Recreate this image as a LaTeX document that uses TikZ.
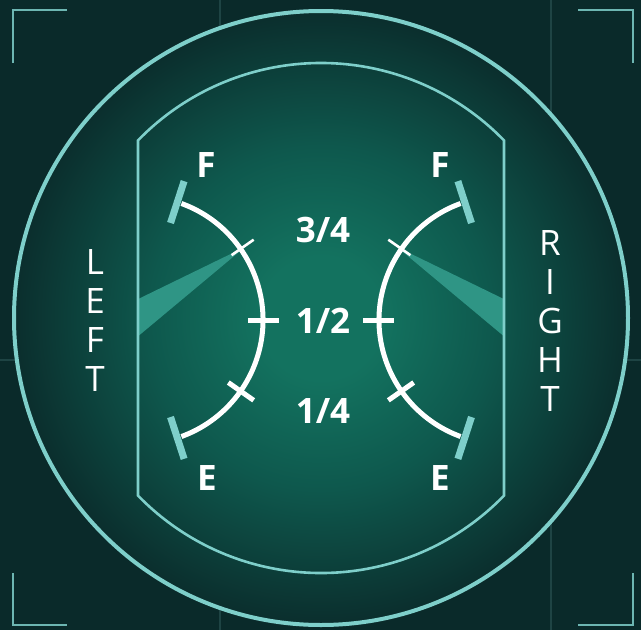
\documentclass[tikz,border=0pt]{standalone}
\usepackage{fontspec}
\setmainfont{Open Sans}
\usetikzlibrary{calc}
\definecolor{bgdark}{HTML}{0A2A2A}
\definecolor{gridc}{HTML}{1E4444}
\definecolor{teal1}{HTML}{7ECFCA}
\definecolor{wedgec}{HTML}{2F9585}
\definecolor{glowc}{HTML}{13725F}
\definecolor{glowm}{HTML}{0E584D}
\definecolor{glowo}{HTML}{0B2E2D}
\pgfdeclareradialshading{glow}{\pgfpoint{0bp}{0bp}}{color(0bp)=(glowc); color(5bp)=(glowc); color(14bp)=(glowm); color(25bp)=(glowo); color(50bp)=(glowo)}
\begin{document}
\begin{tikzpicture}[x=1pt,y=-1pt,
  rim/.style={draw=teal1, line width=4},
  border/.style={draw=teal1, line width=2.6},
  bracket/.style={draw=teal1!85!bgdark, line width=2.4},
  gridline/.style={draw=gridc, line width=2},
  gaugearc/.style={draw=white, line width=5},
  tickmark/.style={draw=white, line width=5},
  thintick/.style={draw=white, line width=2.6},
  capbar/.style={draw=teal1, line width=7},
  needle/.style={fill=wedgec},
  bigtxt/.style={text=white, anchor=base, font=\fontsize{35}{35}\selectfont\bfseries},
  sidetxt/.style={text=white, anchor=base, font=\fontsize{35}{35}\selectfont}]
\useasboundingbox (0,0) rectangle (641,630);
\fill[bgdark] (0,0) rectangle (641,630);
% grid lines
\draw[gridline] (220,0) -- (220,630);
\draw[gridline] (551,0) -- (551,630);
\draw[gridline] (0,360) -- (641,360);
% corner brackets
\draw[bracket] (13,63) -- (13,10) -- (67,10);
\draw[bracket] (578,10) -- (633,10) -- (633,63);
\draw[bracket] (13,573) -- (13,625) -- (67,625);
\draw[bracket] (578,625) -- (633,625) -- (633,573);
% outer circle
\coordinate (O) at (321,318);
\shade[shading=glow] (O) circle (307);
\draw[rim] (O) circle (307);
% inner capsule
\def\innerpath{(138,140.4) arc[start angle=224.14, end angle=315.86, radius=255] -- (504,495.6) arc[start angle=44.14, end angle=135.86, radius=255] -- cycle}
% gauge centres
\coordinate (LC) at (139,320);
\coordinate (RC) at (503,320);
% needles
\begin{scope}
\clip \innerpath;
\fill[needle] (130,303) -- (245,247) -- (130,343) -- cycle;
\fill[needle] (512,303) -- (397,247) -- (512,343) -- cycle;
\end{scope}
\draw[border] \innerpath;
% left gauge
\draw[gaugearc] ($(LC)+(-70:124)$) arc[start angle=-70, end angle=70, radius=124];
\draw[thintick] ($(LC)+(-35:113)$) -- ($(LC)+(-35:140)$);
\draw[tickmark] ($(LC)+(0:109)$) -- ($(LC)+(0:140)$);
\draw[tickmark] ($(LC)+(35:109)$) -- ($(LC)+(35:140)$);
\draw[capbar] ($(LC)+(-72:102)$) -- ($(LC)+(-72:146)$);
\draw[capbar] ($(LC)+(72:102)$) -- ($(LC)+(72:146)$);
% right gauge
\draw[gaugearc] ($(RC)+(-110:124)$) arc[start angle=-110, end angle=-250, radius=124];
\draw[thintick] ($(RC)+(-145:113)$) -- ($(RC)+(-145:140)$);
\draw[tickmark] ($(RC)+(180:109)$) -- ($(RC)+(180:140)$);
\draw[tickmark] ($(RC)+(145:109)$) -- ($(RC)+(145:140)$);
\draw[capbar] ($(RC)+(-108:102)$) -- ($(RC)+(-108:146)$);
\draw[capbar] ($(RC)+(108:102)$) -- ($(RC)+(108:146)$);
% labels
\node[bigtxt] (fL) at (206,177) {F};
\node[bigtxt] (fR) at (440,177) {F};
\node[bigtxt] (eL) at (207,490) {E};
\node[bigtxt] (eR) at (440,490) {E};
\node[bigtxt] (q3) at (323,242) {3/4};
\node[bigtxt] (q2) at (323,333) {1/2};
\node[bigtxt] (q1) at (323,423) {1/4};
% side words
\node[sidetxt] (l1) at (95,274) {L};
\node[sidetxt] (l2) at (95,313) {E};
\node[sidetxt] (l3) at (95,352) {F};
\node[sidetxt] (l4) at (95,391) {T};
\node[sidetxt] (r1) at (550,255) {R};
\node[sidetxt] (r2) at (550,294) {I};
\node[sidetxt] (r3) at (550,333) {G};
\node[sidetxt] (r4) at (550,372) {H};
\node[sidetxt] (r5) at (550,411) {T};
\end{tikzpicture}
\end{document}
